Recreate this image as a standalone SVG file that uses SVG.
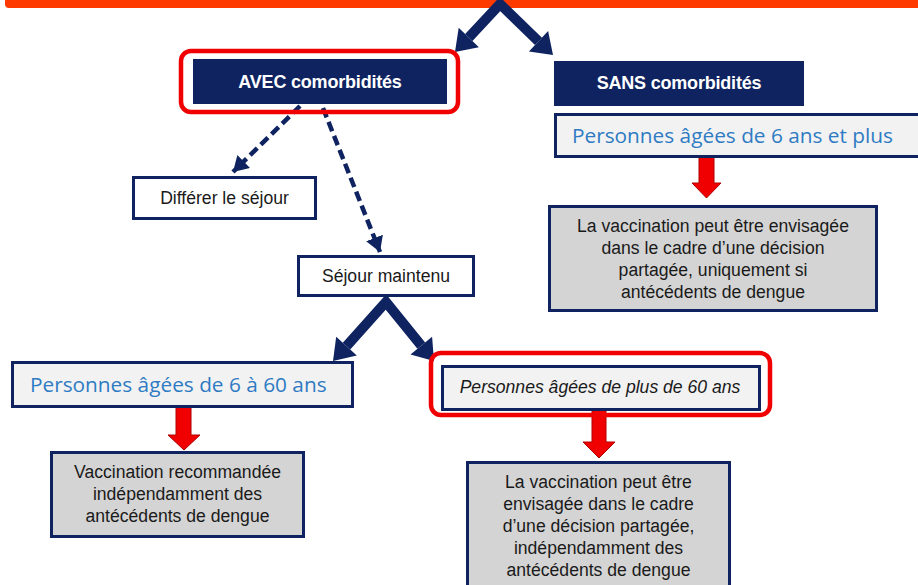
<svg xmlns="http://www.w3.org/2000/svg" width="918" height="585" viewBox="0 0 918 585">
<defs>
<style>
.navy{fill:#0E2360}
.hdr{font-family:"Liberation Sans",Arial,sans-serif;font-size:18px;font-weight:bold;fill:#fff;text-anchor:middle;letter-spacing:-0.2px}
.pers{fill:#F2F2F2;stroke:#0E2360;stroke-width:3}
.ptxt{font-family:"Open Sans","Liberation Sans",sans-serif;font-size:20.8px;fill:#2E7BC4}
.wbox{fill:#fff;stroke:#0E2360;stroke-width:3}
.gbox{fill:#D4D4D4;stroke:#0E2360;stroke-width:3}
.txt{font-family:"Liberation Sans",Arial,sans-serif;font-size:17.6px;fill:#1A1A1A;text-anchor:middle}
.hl{fill:none;stroke:#F00000;stroke-width:4.5}
.chev{fill:none;stroke:#0E2360;stroke-width:10;stroke-linejoin:miter}
.head{fill:#0E2360}
.dash{fill:none;stroke:#0E2360;stroke-width:4.5;stroke-dasharray:10 5}
.red{fill:#F00000;stroke:#B00000;stroke-width:1}
</style>
<marker id="ah" markerUnits="userSpaceOnUse" markerWidth="20" markerHeight="20" refX="15" refY="9" orient="auto">
<path d="M0,0 L15,9 L0,18 Z" fill="#0E2360"/>
</marker>
</defs>

<rect x="5" y="-10" width="930" height="18" rx="4" fill="#FF3A00"/>

<g id="connectors">
<path class="chev" d="M468.8,37.5 L500,4 L538.5,41.3"/>
<polygon class="head" points="455,52 478.9,47.2 458.7,27.8"/>
<polygon class="head" points="553,55 528.9,51.5 548.1,31.1"/>
<path class="dash" d="M300,106 L233,172" marker-end="url(#ah)"/>
<path class="dash" d="M323,108 L380,252" marker-end="url(#ah)"/>
<path class="chev" d="M346.5,346.2 L386,302 L421.3,345.6"/>
<polygon class="head" points="333,361 356.8,355.6 336.2,336.8"/>
<polygon class="head" points="434,361 410.5,354.5 432.1,336.7"/>
<polygon class="red" points="699,157 714,157 714,183 721,183 706.5,198 692,183 699,183"/>
<polygon class="red" points="176,407 191,407 191,435 200,435 184,450 168,435 176,435"/>
<polygon class="red" points="592,410 606,410 606,442 615,442 599,458 583,442 592,442"/>
</g>

<g id="avec">
<rect class="hl" x="181" y="51" width="277" height="61" rx="10"/>
<rect class="navy" x="193" y="59" width="254" height="45"/>
<text class="hdr" x="320" y="88">AVEC comorbidités</text>
</g>

<g id="sans">
<rect class="navy" x="554" y="61" width="250" height="45"/>
<text class="hdr" x="679" y="89">SANS comorbidités</text>
</g>

<g id="pers6plus">
<rect class="pers" x="555.5" y="114.5" width="370" height="42"/>
<text class="ptxt" x="572" y="143">Personnes âgées de 6 ans et plus</text>
</g>

<g id="sans-result">
<rect class="gbox" x="549.5" y="206.5" width="327" height="104"/>
<text class="txt" x="713" y="232">La vaccination peut être envisagée</text>
<text class="txt" x="713" y="254">dans le cadre d’une décision</text>
<text class="txt" x="713" y="276">partagée, uniquement si</text>
<text class="txt" x="713" y="298">antécédents de dengue</text>
</g>

<g id="differer">
<rect class="wbox" x="133.5" y="177.5" width="182" height="41"/>
<text class="txt" x="224.5" y="204">Différer le séjour</text>
</g>

<g id="maintenu">
<rect class="wbox" x="298.5" y="256.5" width="175" height="39"/>
<text class="txt" x="386" y="282">Séjour maintenu</text>
</g>

<g id="pers6-60">
<rect class="pers" x="12.5" y="362.5" width="340" height="44"/>
<text class="ptxt" x="30" y="392">Personnes âgées de 6 à 60 ans</text>
</g>

<g id="result-6-60">
<rect class="gbox" x="51.5" y="452.5" width="252" height="84"/>
<text class="txt" x="177.5" y="478">Vaccination recommandée</text>
<text class="txt" x="177.5" y="500">indépendamment des</text>
<text class="txt" x="177.5" y="522">antécédents de dengue</text>
</g>

<g id="pers60plus">
<rect class="hl" x="431" y="353" width="339" height="62" rx="10"/>
<rect class="pers" x="442.5" y="366.5" width="317" height="43"/>
<text class="txt" x="600" y="393" style="font-style:italic">Personnes âgées de plus de 60 ans</text>
</g>

<g id="result-60plus">
<rect class="gbox" x="467.5" y="462.5" width="262" height="130"/>
<text class="txt" x="598.5" y="488">La vaccination peut être</text>
<text class="txt" x="598.5" y="510">envisagée dans le cadre</text>
<text class="txt" x="598.5" y="532">d’une décision partagée,</text>
<text class="txt" x="598.5" y="554">indépendamment des</text>
<text class="txt" x="598.5" y="576">antécédents de dengue</text>
</g>
</svg>
